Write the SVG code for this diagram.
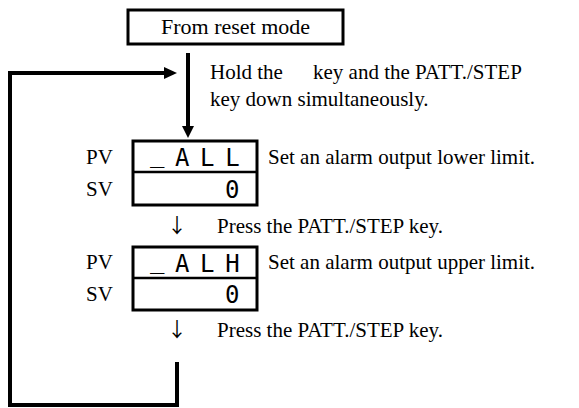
<svg xmlns="http://www.w3.org/2000/svg" width="579" height="408" viewBox="0 0 579 408">
<style>
.t{font-family:"Liberation Serif","Times New Roman",serif;font-size:21px;fill:#000}
.ar{font-family:"Noto Sans CJK JP","DejaVu Sans",sans-serif;font-size:20px;fill:#000}
.seg{font-family:"DejaVu Sans Mono",monospace;font-size:24px;fill:#000;letter-spacing:10.6px}
.box{fill:#fff;stroke:#000;stroke-width:3}
.ln{fill:none;stroke:#000;stroke-width:4}
</style>
<rect width="579" height="408" fill="#fff"/>
<g id="start">
<rect class="box" x="128" y="10" width="215" height="34" stroke-width="2"/>
<text class="t" x="235.5" y="34" text-anchor="middle" style="font-size:22px">From reset mode</text>
</g>
<g id="connectors">
<line class="ln" x1="188" y1="53" x2="188" y2="128"/>
<polygon points="182,126 194,126 188,138"/>
<polyline class="ln" points="177,362 177,405 10,405 10,73 165,73"/>
<polygon points="164,67 164,79 177,73"/>
<text class="ar" x="177" y="233" text-anchor="middle">↓</text>
<text class="ar" x="177" y="337" text-anchor="middle">↓</text>
</g>
<g id="hold-text">
<text class="t" x="210" y="79">Hold the</text>
<text class="t" x="313" y="79">key and the PATT./STEP</text>
<text class="t" x="210" y="106">key down simultaneously.</text>
</g>
<g id="panel-all">
<text class="t" x="86" y="164">PV</text>
<text class="t" x="86" y="196">SV</text>
<rect class="box" x="133" y="141" width="124" height="64"/>
<line x1="133" y1="172" x2="257" y2="172" stroke="#000" stroke-width="2.5"/>
<text class="seg" x="150" y="166"><tspan dy="-4">_</tspan><tspan dy="4">ALL</tspan></text>
<text class="seg" x="225" y="198">0</text>
<text class="t" x="268" y="164">Set an alarm output lower limit.</text>
</g>
<g id="step1">
<text class="t" x="217" y="233">Press the PATT./STEP key.</text>
</g>
<g id="panel-alh">
<text class="t" x="86" y="269">PV</text>
<text class="t" x="86" y="301">SV</text>
<rect class="box" x="133" y="247" width="124" height="63"/>
<line x1="133" y1="278" x2="257" y2="278" stroke="#000" stroke-width="2.5"/>
<text class="seg" x="150" y="272"><tspan dy="-4">_</tspan><tspan dy="4">ALH</tspan></text>
<text class="seg" x="225" y="303">0</text>
<text class="t" x="268" y="269">Set an alarm output upper limit.</text>
</g>
<g id="step2">
<text class="t" x="217" y="337">Press the PATT./STEP key.</text>
</g>
</svg>
